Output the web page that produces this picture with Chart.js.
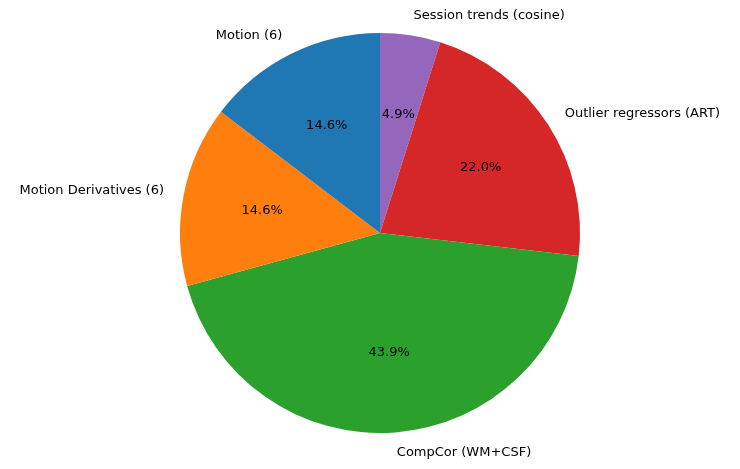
<!DOCTYPE html>
<html><head><meta charset="utf-8">
<script src="https://cdn.jsdelivr.net/npm/chart.js@4"></script>
<style>html,body{margin:0;padding:0;background:#fff}</style>
</head><body>
<canvas id="c" width="740" height="469"></canvas>
<script>
// Original (matplotlib, counterclockwise from top) order
const categories = ["Motion (6)", "Motion Derivatives (6)", "CompCor (WM+CSF)", "Outlier regressors (ART)", "Session trends (cosine)"];
const values = [6, 6, 18, 9, 2];
const colors = ["#1f77b4", "#ff7f0e", "#2ca02c", "#d62728", "#9467bd"];
// Chart.js draws clockwise, so reverse to reproduce counterclockwise layout
const labelsCW = categories.slice().reverse();
const valuesCW = values.slice().reverse();
const colorsCW = colors.slice().reverse();
const total = values.reduce((a, b) => a + b, 0);

const labelPlugin = {
  id: 'pieLabels',
  afterDatasetsDraw(chart) {
    const ctx = chart.ctx;
    const meta = chart.getDatasetMeta(0);
    ctx.save();
    ctx.font = '13px "DejaVu Sans"';
    ctx.fillStyle = '#000';
    ctx.textBaseline = 'middle';
    meta.data.forEach((arc, i) => {
      const a = (arc.startAngle + arc.endAngle) / 2;
      const r = arc.outerRadius;
      const cx = arc.x, cy = arc.y;
      const c = Math.cos(a), s = Math.sin(a);
      ctx.textAlign = c > 0 ? 'left' : 'right';
      ctx.fillText(labelsCW[i], cx + c * r * 1.1, cy + s * r * 1.1);
      ctx.textAlign = 'center';
      const pct = (valuesCW[i] / total * 100).toFixed(1) + '%';
      ctx.fillText(pct, cx + c * r * 0.6, cy + s * r * 0.6);
    });
    ctx.restore();
  }
};

new Chart(document.getElementById('c'), {
  type: 'pie',
  data: { labels: labelsCW, datasets: [{ data: valuesCW, backgroundColor: colorsCW, borderWidth: 0 }] },
  options: {
    responsive: false, animation: false,
    rotation: 0,
    layout: { padding: { top: 33, bottom: 36, left: 180, right: 160 } },
    plugins: { legend: { display: false }, tooltip: { enabled: false } }
  },
  plugins: [labelPlugin]
});
</script>
</body></html>
